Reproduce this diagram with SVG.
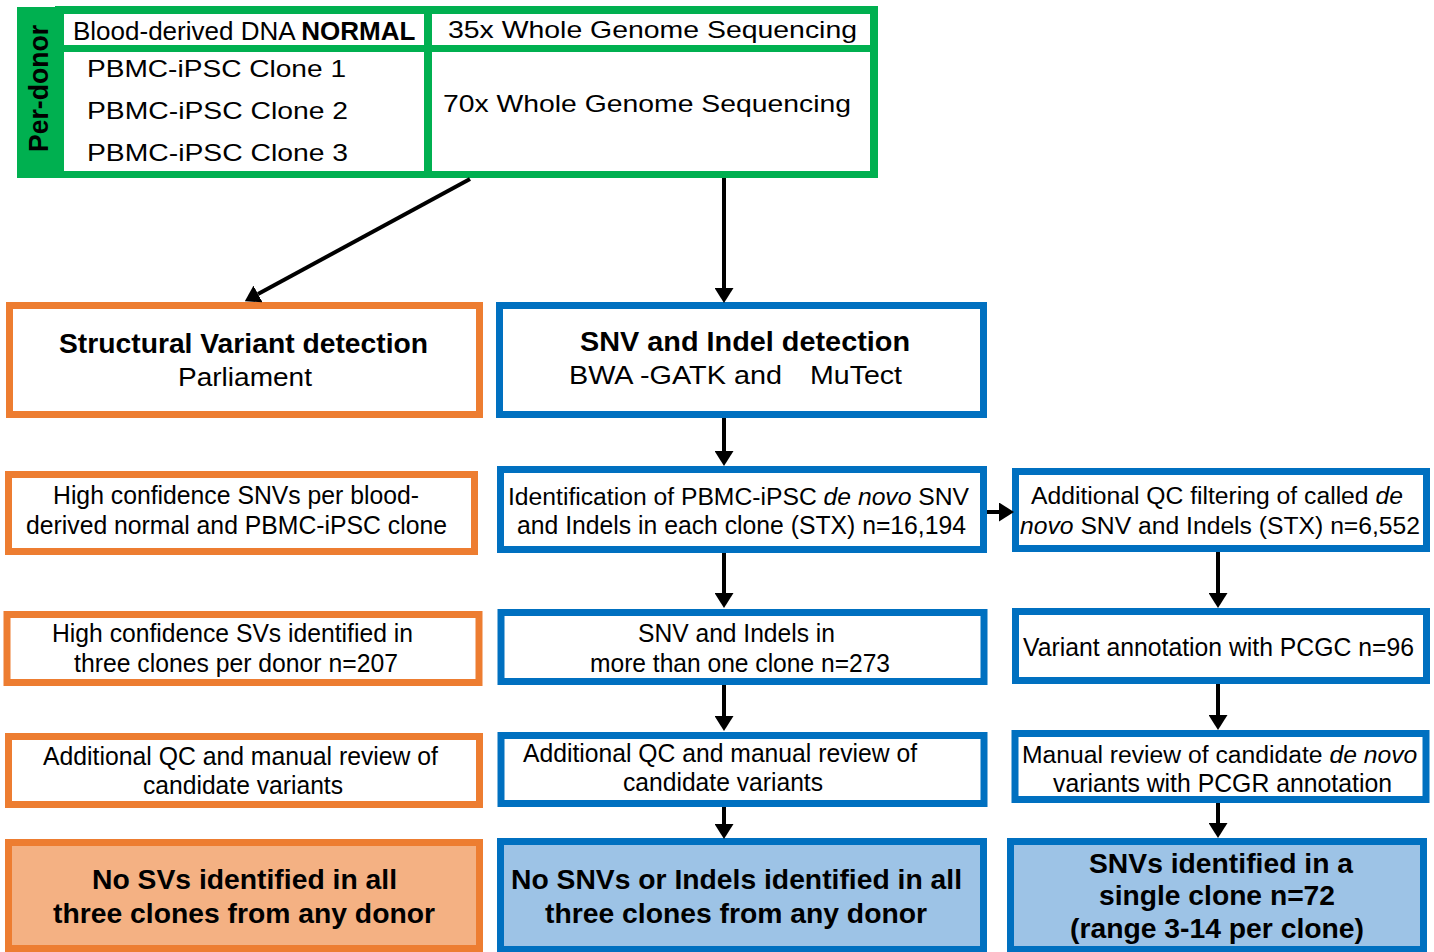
<svg xmlns="http://www.w3.org/2000/svg" width="1434" height="952" viewBox="0 0 1434 952">
<style>
text { font-family: "Liberation Sans", Arial, Helvetica, sans-serif; fill: #000; }
.r { font-size: 25px; }
.rs { font-size: 24.7px; }
.h { font-size: 24px; }
.b { font-size: 28px; font-weight: bold; }
.i { font-style: italic; }
.bo { font-weight: bold; }
.o { fill: #fff; stroke: #ed7d31; stroke-width: 7; }
.ob { fill: #f4b183; stroke: #ed7d31; stroke-width: 7; }
.bl { fill: #fff; stroke: #0070c0; stroke-width: 7; }
.blb { fill: #9dc3e6; stroke: #0070c0; stroke-width: 7; }
.g { fill: #00b050; }
.w { fill: #fff; }
.c { stroke: #000; stroke-width: 4; fill: none; marker-end: url(#ah); }
</style>
<defs>
<marker id="ah" markerUnits="userSpaceOnUse" markerWidth="15" markerHeight="19" refX="0" refY="9.5" orient="auto">
<path d="M0,0 L15,9.5 L0,19 z" fill="#000"/>
</marker>
</defs>
<rect width="1434" height="952" fill="#fff"/>

<g id="per-donor">
<rect class="g" x="17" y="7" width="41" height="171"/>
<text class="bo" font-size="28" transform="translate(48,88.5) rotate(-90)" text-anchor="middle" textLength="127" lengthAdjust="spacingAndGlyphs">Per-donor</text>
</g>

<g id="sequencing-table">
<rect class="g" x="55" y="6" width="823" height="172"/>
<rect class="w" x="64" y="14" width="360" height="31"/>
<rect class="w" x="64" y="52" width="360" height="119"/>
<rect class="w" x="432" y="14" width="438" height="31"/>
<rect class="w" x="432" y="52" width="438" height="119"/>
</g>

<g id="normal-cell">
<text font-size="26" x="73" y="40">Blood-derived DNA <tspan class="bo">NORMAL</tspan></text>
</g>
<g id="wgs35-cell">
<text class="h" x="448" y="38" textLength="409" lengthAdjust="spacingAndGlyphs">35x Whole Genome Sequencing</text>
</g>
<g id="clones-cell">
<text class="h" x="87" y="77" textLength="259" lengthAdjust="spacingAndGlyphs">PBMC-iPSC Clone 1</text>
<text class="h" x="87" y="119" textLength="261" lengthAdjust="spacingAndGlyphs">PBMC-iPSC Clone 2</text>
<text class="h" x="87" y="161" textLength="261" lengthAdjust="spacingAndGlyphs">PBMC-iPSC Clone 3</text>
</g>
<g id="wgs70-cell">
<text class="h" x="443" y="112" textLength="408" lengthAdjust="spacingAndGlyphs">70x Whole Genome Sequencing</text>
</g>

<g id="sv-detection">
<rect class="o" x="9.5" y="305.5" width="470" height="109"/>
<text class="b" x="59" y="353" textLength="369" lengthAdjust="spacingAndGlyphs">Structural Variant detection</text>
<text class="r" x="178" y="386" textLength="134" lengthAdjust="spacingAndGlyphs">Parliament</text>
</g>

<g id="hc-snvs">
<rect class="o" x="8.5" y="474.5" width="466" height="77"/>
<text class="r" x="53" y="504" textLength="366" lengthAdjust="spacingAndGlyphs">High confidence SNVs per blood-</text>
<text class="r" x="26" y="534" textLength="421" lengthAdjust="spacingAndGlyphs">derived normal and PBMC-iPSC clone</text>
</g>

<g id="hc-svs">
<rect class="o" x="7" y="614.5" width="472" height="68"/>
<text class="r" x="52" y="642" textLength="361" lengthAdjust="spacingAndGlyphs">High confidence SVs identified in</text>
<text class="r" x="74" y="672" textLength="324" lengthAdjust="spacingAndGlyphs">three clones per donor n=207</text>
</g>

<g id="sv-qc">
<rect class="o" x="8.5" y="736.5" width="471" height="68"/>
<text class="r" x="43" y="765" textLength="395" lengthAdjust="spacingAndGlyphs">Additional QC and manual review of</text>
<text class="r" x="143" y="794" textLength="200" lengthAdjust="spacingAndGlyphs">candidate variants</text>
</g>

<g id="sv-result">
<rect class="ob" x="8.5" y="842.5" width="471" height="106"/>
<text class="b" x="92" y="889" textLength="305" lengthAdjust="spacingAndGlyphs">No SVs identified in all</text>
<text class="b" x="53" y="923" textLength="382" lengthAdjust="spacingAndGlyphs">three clones from any donor</text>
</g>

<g id="snv-detection">
<rect class="bl" x="499.5" y="305.5" width="484" height="109"/>
<text class="b" x="580" y="351" textLength="330" lengthAdjust="spacingAndGlyphs">SNV and Indel detection</text>
<text class="r" x="569" y="384" textLength="213" lengthAdjust="spacingAndGlyphs">BWA -GATK and</text>
<text class="r" x="810" y="384" textLength="92" lengthAdjust="spacingAndGlyphs">MuTect</text>
</g>

<g id="de-novo-id">
<rect class="bl" x="500.5" y="469.5" width="483" height="80"/>
<text class="rs" x="508" y="505">Identification of PBMC-iPSC <tspan class="i">de novo</tspan> SNV</text>
<text class="r" x="517" y="534" textLength="449" lengthAdjust="spacingAndGlyphs">and Indels in each clone (STX) n=16,194</text>
</g>

<g id="multi-clone">
<rect class="bl" x="501" y="612.5" width="483" height="69"/>
<text class="r" x="638" y="642" textLength="197" lengthAdjust="spacingAndGlyphs">SNV and Indels in</text>
<text class="r" x="590" y="672" textLength="300" lengthAdjust="spacingAndGlyphs">more than one clone n=273</text>
</g>

<g id="snv-qc">
<rect class="bl" x="501" y="735.5" width="483" height="68"/>
<text class="r" x="523" y="762" textLength="394" lengthAdjust="spacingAndGlyphs">Additional QC and manual review of</text>
<text class="r" x="623" y="791" textLength="200" lengthAdjust="spacingAndGlyphs">candidate variants</text>
</g>

<g id="snv-result">
<rect class="blb" x="500.5" y="841.5" width="483" height="108"/>
<text class="b" x="511" y="889" textLength="451" lengthAdjust="spacingAndGlyphs">No SNVs or Indels identified in all</text>
<text class="b" x="545" y="923" textLength="382" lengthAdjust="spacingAndGlyphs">three clones from any donor</text>
</g>

<g id="qc-filtering">
<rect class="bl" x="1015.5" y="471.5" width="411" height="77"/>
<text class="rs" x="1031" y="504">Additional QC filtering of called <tspan class="i">de</tspan></text>
<text class="rs" x="1020" y="534"><tspan class="i">novo</tspan> SNV and Indels (STX) n=6,552</text>
</g>

<g id="annotation">
<rect class="bl" x="1015.5" y="611.5" width="411" height="69"/>
<text class="r" x="1023" y="656" textLength="391" lengthAdjust="spacingAndGlyphs">Variant annotation with PCGC n=96</text>
</g>

<g id="manual-review">
<rect class="bl" x="1015" y="733.5" width="411" height="66"/>
<text class="rs" x="1022" y="763">Manual review of candidate <tspan class="i">de novo</tspan></text>
<text class="r" x="1053" y="792" textLength="339" lengthAdjust="spacingAndGlyphs">variants with PCGR annotation</text>
</g>

<g id="single-clone">
<rect class="blb" x="1010.5" y="841.5" width="413" height="108"/>
<text class="b" x="1089" y="873" textLength="264" lengthAdjust="spacingAndGlyphs">SNVs identified in a</text>
<text class="b" x="1099" y="905" textLength="236" lengthAdjust="spacingAndGlyphs">single clone n=72</text>
<text class="b" x="1070" y="938" textLength="294" lengthAdjust="spacingAndGlyphs">(range 3-14 per clone)</text>
</g>

<g id="connectors">
<line class="c" x1="470" y1="179" x2="258" y2="294"/>
<line class="c" x1="724" y1="178" x2="724" y2="288"/>
<line class="c" x1="724" y1="418" x2="724" y2="451"/>
<line class="c" x1="724" y1="553" x2="724" y2="593"/>
<line class="c" x1="724" y1="685" x2="724" y2="716"/>
<line class="c" x1="724" y1="807" x2="724" y2="824"/>
<line class="c" x1="987" y1="512" x2="999" y2="512"/>
<line class="c" x1="1218" y1="552" x2="1218" y2="593"/>
<line class="c" x1="1218" y1="684" x2="1218" y2="715"/>
<line class="c" x1="1218" y1="803" x2="1218" y2="823"/>
</g>
</svg>
